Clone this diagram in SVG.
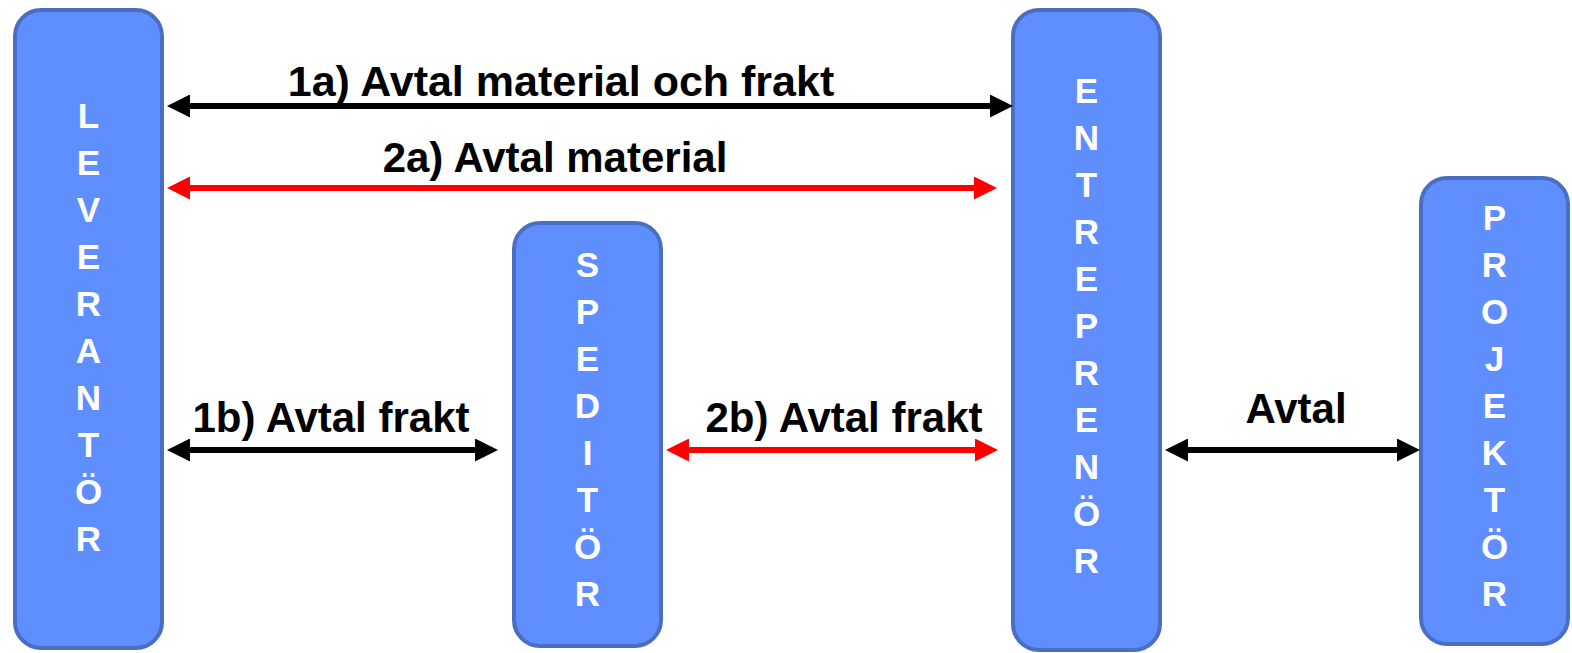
<svg xmlns="http://www.w3.org/2000/svg" width="1572" height="653" viewBox="0 0 1572 653">
<style>
.box{fill:#5f8fff;stroke:#4a6fc2;stroke-width:4}
.lt{font-family:"Liberation Sans",Arial,sans-serif;font-weight:bold;font-size:35px;fill:#ffffff;text-anchor:middle}
.lbl{font-family:"Liberation Sans",Arial,sans-serif;font-weight:bold;font-size:42px;fill:#000000;text-anchor:middle}
.blk{stroke:#000000;stroke-width:6;fill:none}
.red{stroke:#ff0000;stroke-width:6;fill:none}
</style>
<defs>
<marker id="ab" viewBox="0 0 23 23" refX="13" refY="11.5" markerWidth="23" markerHeight="23" markerUnits="userSpaceOnUse" orient="auto-start-reverse"><path d="M0,0 L23,11.5 L0,23 z" fill="#000000"/></marker>
<marker id="ar" viewBox="0 0 23 23" refX="13" refY="11.5" markerWidth="23" markerHeight="23" markerUnits="userSpaceOnUse" orient="auto-start-reverse"><path d="M0,0 L23,11.5 L0,23 z" fill="#ff0000"/></marker>
</defs>
<rect width="1572" height="653" fill="#ffffff"/>
<g id="leverantor">
<rect class="box" x="15" y="10" width="147" height="638" rx="26"/>
<text class="lt" x="88.5" y="128">L</text>
<text class="lt" x="88.5" y="175">E</text>
<text class="lt" x="88.5" y="222">V</text>
<text class="lt" x="88.5" y="269">E</text>
<text class="lt" x="88.5" y="316">R</text>
<text class="lt" x="88.5" y="363">A</text>
<text class="lt" x="88.5" y="410">N</text>
<text class="lt" x="88.5" y="457">T</text>
<text class="lt" x="88.5" y="504">Ö</text>
<text class="lt" x="88.5" y="551">R</text>
</g>
<g id="speditor">
<rect class="box" x="514" y="223" width="147" height="423" rx="26"/>
<text class="lt" x="587.5" y="277">S</text>
<text class="lt" x="587.5" y="324">P</text>
<text class="lt" x="587.5" y="371">E</text>
<text class="lt" x="587.5" y="418">D</text>
<text class="lt" x="587.5" y="465">I</text>
<text class="lt" x="587.5" y="512">T</text>
<text class="lt" x="587.5" y="559">Ö</text>
<text class="lt" x="587.5" y="606">R</text>
</g>
<g id="entreprenor">
<rect class="box" x="1013" y="10" width="147" height="640" rx="26"/>
<text class="lt" x="1086.5" y="103">E</text>
<text class="lt" x="1086.5" y="150">N</text>
<text class="lt" x="1086.5" y="197">T</text>
<text class="lt" x="1086.5" y="244">R</text>
<text class="lt" x="1086.5" y="291">E</text>
<text class="lt" x="1086.5" y="338">P</text>
<text class="lt" x="1086.5" y="385">R</text>
<text class="lt" x="1086.5" y="432">E</text>
<text class="lt" x="1086.5" y="479">N</text>
<text class="lt" x="1086.5" y="526">Ö</text>
<text class="lt" x="1086.5" y="573">R</text>
</g>
<g id="projektor">
<rect class="box" x="1421" y="178" width="147" height="466" rx="26"/>
<text class="lt" x="1494.5" y="230">P</text>
<text class="lt" x="1494.5" y="277">R</text>
<text class="lt" x="1494.5" y="324">O</text>
<text class="lt" x="1494.5" y="371">J</text>
<text class="lt" x="1494.5" y="418">E</text>
<text class="lt" x="1494.5" y="465">K</text>
<text class="lt" x="1494.5" y="512">T</text>
<text class="lt" x="1494.5" y="559">Ö</text>
<text class="lt" x="1494.5" y="606">R</text>
</g>
<g id="connectors">
<line class="blk" x1="177" y1="106" x2="1003" y2="106" marker-start="url(#ab)" marker-end="url(#ab)"/>
<line class="red" x1="177" y1="188" x2="987" y2="188" marker-start="url(#ar)" marker-end="url(#ar)"/>
<line class="blk" x1="177" y1="450" x2="488" y2="450" marker-start="url(#ab)" marker-end="url(#ab)"/>
<line class="red" x1="676" y1="450" x2="988" y2="450" marker-start="url(#ar)" marker-end="url(#ar)"/>
<line class="blk" x1="1175" y1="450" x2="1410" y2="450" marker-start="url(#ab)" marker-end="url(#ab)"/>
<text class="lbl" x="561" y="96" style="font-size:43px">1a) Avtal material och frakt</text>
<text class="lbl" x="555" y="172">2a) Avtal material</text>
<text class="lbl" x="331" y="432">1b) Avtal frakt</text>
<text class="lbl" x="844" y="432">2b) Avtal frakt</text>
<text class="lbl" x="1296" y="423">Avtal</text>
</g>
</svg>
